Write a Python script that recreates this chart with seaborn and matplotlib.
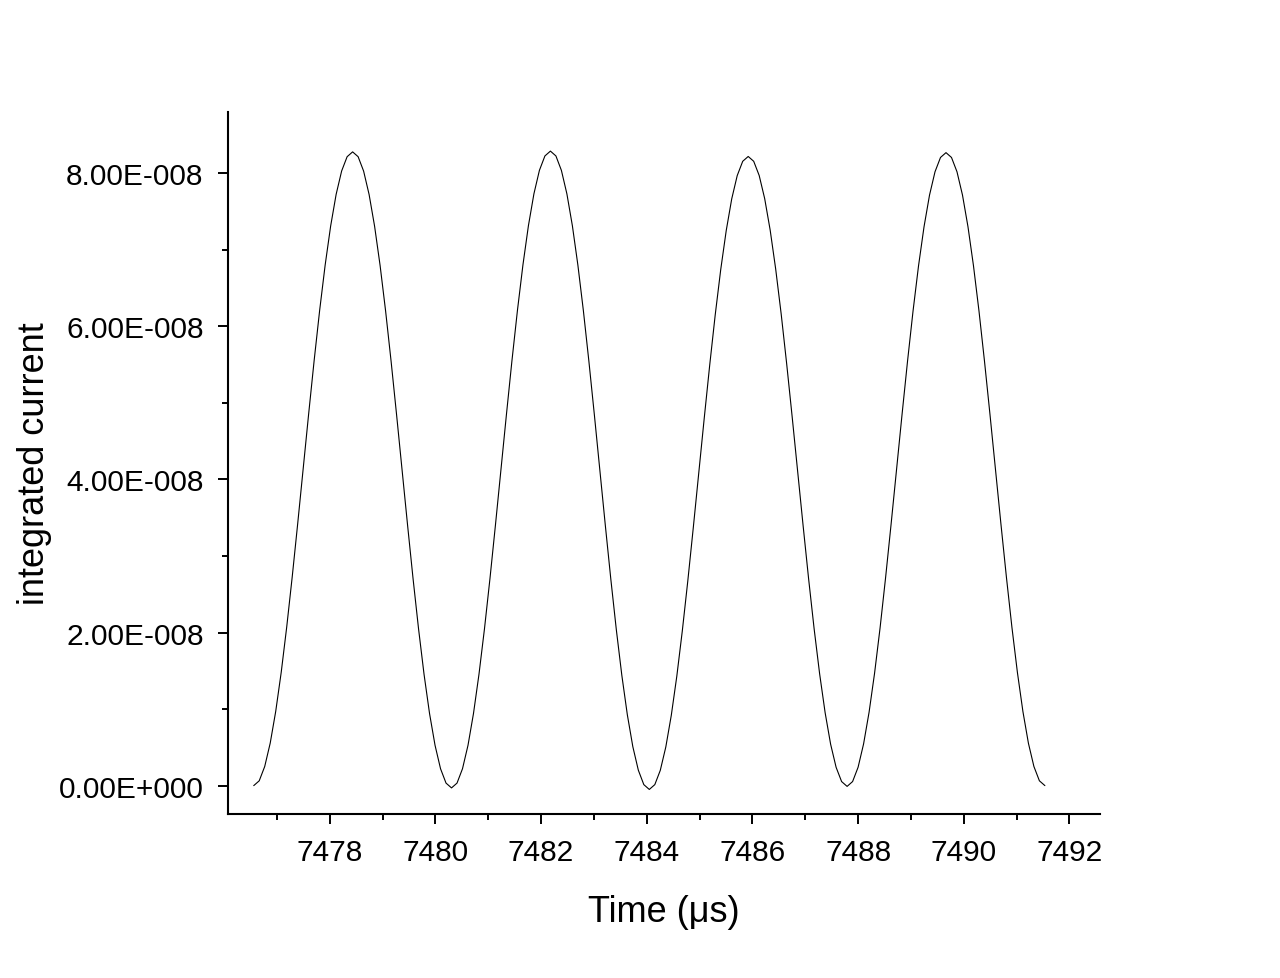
import seaborn as sns
import matplotlib.pyplot as plt
import numpy as np
from matplotlib.ticker import MultipleLocator, FuncFormatter

sns.set_style("ticks")
plt.rcParams["font.family"] = ["Liberation Sans", "DejaVu Sans"]
plt.rcParams.update({
    "text.color": "black",
    "axes.labelcolor": "black",
    "axes.edgecolor": "black",
    "xtick.color": "black",
    "ytick.color": "black",
})

# time samples (us)
time_us = [
    7476.560, 7476.664, 7476.768, 7476.872, 7476.976, 7477.080, 7477.184, 7477.288,
    7477.392, 7477.496, 7477.600, 7477.704, 7477.808, 7477.912, 7478.016, 7478.120,
    7478.224, 7478.328, 7478.432, 7478.536, 7478.640, 7478.744, 7478.848, 7478.952,
    7479.056, 7479.160, 7479.264, 7479.368, 7479.472, 7479.576, 7479.680, 7479.784,
    7479.888, 7479.992, 7480.096, 7480.200, 7480.304, 7480.408, 7480.512, 7480.616,
    7480.720, 7480.824, 7480.928, 7481.032, 7481.136, 7481.240, 7481.344, 7481.448,
    7481.552, 7481.656, 7481.760, 7481.864, 7481.968, 7482.072, 7482.176, 7482.280,
    7482.384, 7482.488, 7482.592, 7482.696, 7482.800, 7482.904, 7483.008, 7483.112,
    7483.216, 7483.320, 7483.424, 7483.528, 7483.632, 7483.736, 7483.840, 7483.944,
    7484.048, 7484.152, 7484.256, 7484.360, 7484.464, 7484.568, 7484.672, 7484.776,
    7484.880, 7484.984, 7485.088, 7485.192, 7485.296, 7485.400, 7485.504, 7485.608,
    7485.712, 7485.816, 7485.920, 7486.024, 7486.128, 7486.232, 7486.336, 7486.440,
    7486.544, 7486.648, 7486.752, 7486.856, 7486.960, 7487.064, 7487.168, 7487.272,
    7487.376, 7487.480, 7487.584, 7487.688, 7487.792, 7487.896, 7488.000, 7488.104,
    7488.208, 7488.312, 7488.416, 7488.520, 7488.624, 7488.728, 7488.832, 7488.936,
    7489.040, 7489.144, 7489.248, 7489.352, 7489.456, 7489.560, 7489.664, 7489.768,
    7489.872, 7489.976, 7490.080, 7490.184, 7490.288, 7490.392, 7490.496, 7490.600,
    7490.704, 7490.808, 7490.912, 7491.016, 7491.120, 7491.224, 7491.328, 7491.432,
    7491.536,
]

# integrated current in units of 1e-8
current_e8 = [
    0.000, 0.063, 0.250, 0.555, 0.969, 1.479, 2.070, 2.724, 3.421, 4.140,
    4.859, 5.556, 6.210, 6.801, 7.311, 7.725, 8.030, 8.217, 8.280,
    8.217, 8.029, 7.723, 7.308, 6.796, 6.203, 5.546, 4.846, 4.125, 3.404,
    2.704, 2.048, 1.454, 0.942, 0.527, 0.221, 0.033, -0.030,
    0.033, 0.221, 0.527, 0.943, 1.456, 2.050, 2.707, 3.408, 4.130, 4.852,
    5.553, 6.210, 6.804, 7.317, 7.733, 8.039, 8.227, 8.290,
    8.227, 8.038, 7.731, 7.314, 6.800, 6.205, 5.546, 4.844, 4.120, 3.396,
    2.694, 2.035, 1.440, 0.926, 0.509, 0.202, 0.013, -0.050,
    0.013, 0.200, 0.504, 0.918, 1.427, 2.018, 2.671, 3.367, 4.085, 4.803,
    5.499, 6.153, 6.743, 7.252, 7.666, 7.970, 8.157, 8.220,
    8.157, 7.971, 7.669, 7.257, 6.750, 6.163, 5.512, 4.819, 4.105, 3.391,
    2.698, 2.048, 1.460, 0.953, 0.541, 0.239, 0.053, -0.010,
    0.053, 0.240, 0.545, 0.959, 1.469, 2.060, 2.714, 3.411, 4.130, 4.849,
    5.546, 6.200, 6.791, 7.301, 7.715, 8.020, 8.207, 8.270,
    8.207, 8.020, 7.716, 7.302, 6.793, 6.203, 5.549, 4.853, 4.135, 3.417,
    2.721, 2.068, 1.477, 0.968, 0.554, 0.250, 0.063, 0.000,
]

current = np.array(current_e8) * 1e-8


def origin_sci(v, pos):
    if v == 0:
        return "0.00E+000"
    exp = int(np.floor(np.log10(abs(v))))
    mant = v / 10 ** exp
    sign = "-" if exp < 0 else "+"
    return f"{mant:.2f}E{sign}{abs(exp):03d}"


fig = plt.figure(figsize=(12.8, 9.79), dpi=100)
ax = fig.add_axes([0.178, 0.1675, 0.681, 0.717])

sns.lineplot(x=time_us, y=current, ax=ax, color="black", linewidth=0.8)

ax.set_xlim(7476.07, 7492.57)
ax.set_ylim(-0.371e-8, 8.80e-8)

ax.xaxis.set_major_locator(MultipleLocator(2))
ax.xaxis.set_minor_locator(MultipleLocator(1))
ax.yaxis.set_major_locator(MultipleLocator(2e-8))
ax.yaxis.set_minor_locator(MultipleLocator(1e-8))
ax.yaxis.set_major_formatter(FuncFormatter(origin_sci))
ax.xaxis.set_major_formatter(FuncFormatter(lambda v, p: f"{v:.0f}"))

ax.tick_params(which="major", direction="out", length=7.5, width=1.4,
               labelsize=21.5, pad=10)
ax.tick_params(which="minor", direction="out", length=4.5, width=1.4)

sns.despine(ax=ax)
for s in ("left", "bottom"):
    ax.spines[s].set_linewidth(1.5)

ax.set_xlabel("Time (μs)", fontsize=26, labelpad=20)
ax.set_ylabel("integrated current", fontsize=26, labelpad=5)

fig.savefig("out.png", dpi=100)
plt.close(fig)
